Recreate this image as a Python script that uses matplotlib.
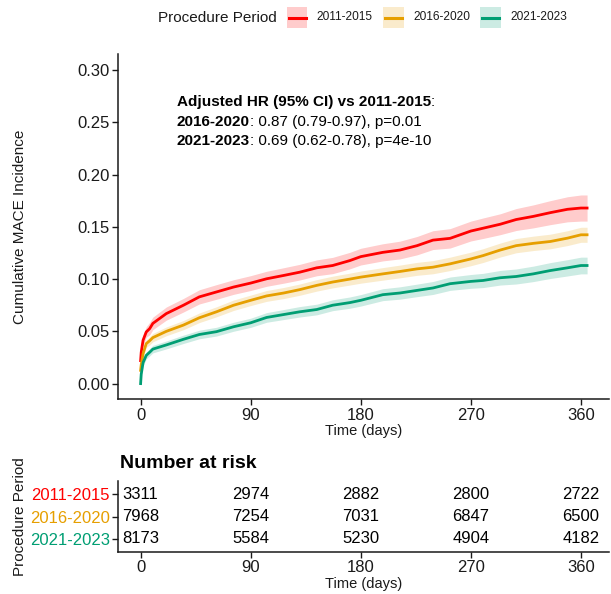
import numpy as np
import matplotlib
matplotlib.use("Agg")
import matplotlib.pyplot as plt
from matplotlib.patches import Rectangle
from matplotlib.lines import Line2D

plt.rcParams['font.family'] = ['Liberation Sans', 'DejaVu Sans']

#data
periods = ["2011-2015", "2016-2020", "2021-2023"]
colors = ["#FF0000", "#E69F00", "#009E73"]

days = [0, 0.5, 2, 4.6, 7.4, 10, 21, 35, 48, 62, 76, 90, 103, 117, 130, 144, 157,
        171, 180, 198, 212, 226, 239, 253, 270, 280, 294, 307, 321, 335, 349, 360, 365]

inc_2011 = [0.022, 0.030, 0.0415, 0.0494, 0.0526, 0.0576, 0.067, 0.075, 0.083, 0.0877,
            0.0924, 0.0962, 0.1003, 0.1035, 0.1066, 0.1108, 0.113, 0.1177, 0.1215, 0.1256,
            0.1278, 0.132, 0.1373, 0.139, 0.146, 0.1487, 0.1525, 0.157, 0.160, 0.1636,
            0.1668, 0.168, 0.168]
inc_2016 = [0.0127, 0.018, 0.0287, 0.0383, 0.041, 0.044, 0.050, 0.056, 0.063, 0.0687,
            0.075, 0.0797, 0.0839, 0.0867, 0.0899, 0.094, 0.0972, 0.100, 0.1019, 0.105,
            0.1073, 0.1098, 0.1114, 0.1146, 0.1193, 0.1225, 0.1278, 0.132, 0.1342, 0.136,
            0.1392, 0.1424, 0.1424]
inc_2021 = [0.0, 0.009, 0.020, 0.027, 0.030, 0.033, 0.037, 0.0424, 0.047, 0.0497,
            0.0544, 0.0582, 0.0633, 0.0661, 0.0687, 0.0709, 0.075, 0.0775, 0.0797, 0.0851,
            0.0867, 0.0892, 0.0915, 0.0956, 0.0978, 0.0987, 0.1013, 0.1025, 0.105, 0.1082,
            0.1108, 0.113, 0.113]

#half widths of the 95% bands
hw_2011 = [0.003, 0.004, 0.005, 0.005, 0.006, 0.006, 0.0063, 0.0065, 0.0068, 0.007, 0.007,
           0.0071, 0.0072, 0.0074, 0.0075, 0.0076, 0.0078, 0.0079, 0.008, 0.0082, 0.0085,
           0.0088, 0.009, 0.0093, 0.0095, 0.0098, 0.010, 0.0105, 0.011, 0.0115, 0.012,
           0.0125, 0.0125]
hw_2016 = [0.002, 0.003, 0.003, 0.0035, 0.004, 0.004, 0.0042, 0.0044, 0.0046, 0.0048, 0.005,
           0.005, 0.0052, 0.0053, 0.0054, 0.0055, 0.0056, 0.0057, 0.0058, 0.006, 0.0061,
           0.0062, 0.0063, 0.0064, 0.0065, 0.0066, 0.0067, 0.0068, 0.0069, 0.007, 0.0071,
           0.0072, 0.0072]
hw_2021 = [0.0015, 0.0025, 0.003, 0.0033, 0.0035, 0.0036, 0.0038, 0.004, 0.0041, 0.0042,
           0.0043, 0.0044, 0.0046, 0.0048, 0.005, 0.0051, 0.0052, 0.0054, 0.0055, 0.0057,
           0.0059, 0.006, 0.0062, 0.0064, 0.0066, 0.0068, 0.007, 0.0072, 0.0074, 0.0076,
           0.0078, 0.008, 0.008]

risk_times = [0, 90, 180, 270, 360]
risk_2011 = [3311, 2974, 2882, 2800, 2722]
risk_2016 = [7968, 7254, 7031, 6847, 6500]
risk_2021 = [8173, 5584, 5230, 4904, 4182]

curves = [inc_2011, inc_2016, inc_2021]
bands = [hw_2011, hw_2016, hw_2021]
risks = [risk_2011, risk_2016, risk_2021]

xlim = (-18.25, 383.25)
ink = "#1a1a1a"
W, H = 611, 594

fig = plt.figure(figsize=(6.11, 5.94), dpi=100)
ax = fig.add_axes([0.1936, 0.3278, 0.9974 - 0.1936, 0.9084 - 0.3278])
axr = fig.add_axes([0.1936, 0.0707, 0.9974 - 0.1936, 0.1902 - 0.0707])

#curves with confidence bands
t = np.array(days)
for y, hw, c in zip(curves, bands, colors):
    y = np.array(y); hw = np.array(hw)
    ax.fill_between(t, np.clip(y - hw, 0, None), y + hw, color=c, alpha=0.2, lw=0)
    ax.plot(t, y, color=c, lw=2.0)

ax.set_xlim(*xlim)
ax.set_ylim(-0.015, 0.315)
ax.set_xticks(risk_times)
ax.set_yticks(np.arange(0, 0.301, 0.05))
ax.yaxis.set_major_formatter(matplotlib.ticker.FormatStrFormatter('%.2f'))
ax.tick_params(labelsize=12, length=4, width=1, colors=ink, pad=2)
ax.set_xlabel("Time (days)", fontsize=10.5, color=ink, labelpad=1)
ax.set_ylabel("Cumulative MACE Incidence", fontsize=11, color=ink)
ax.yaxis.set_label_coords(-0.186, 0.5)
for s in ["top", "right"]:
    ax.spines[s].set_visible(False)
for s in ["left", "bottom"]:
    ax.spines[s].set_linewidth(1.1)
    ax.spines[s].set_color(ink)

#HR annotation, bold heads + plain rest
lines = [("Adjusted HR (95% CI) vs 2011-2015", ":"),
         ("2016-2020", ": 0.87 (0.79-0.97), p=0.01"),
         ("2021-2023", ": 0.69 (0.62-0.78), p=4e-10")]
x0 = (177 - 141) / 1.2222
for i, (head, rest) in enumerate(lines):
    ypos = 0.2693 - i * 0.0187
    tb = ax.text(x0, ypos, head, fontsize=11, fontweight='bold', va='center', ha='left', color='black')
    ax.annotate(rest, xy=(1, 0.5), xycoords=tb, va='center', ha='left', fontsize=11, color='black')

#top legend, drawn by hand in pixel positions: title, then key box + line + label
ly = 1 - 17.5 / H
fig.text(158 / W, ly, "Procedure Period", fontsize=11, va='center', ha='left', color=ink)
key_x = [286.5, 383, 480]
for kx, c, lab in zip(key_x, colors, periods):
    fig.patches.append(Rectangle((kx / W, ly - 10.5 / H), 21 / W, 21 / H, transform=fig.transFigure,
                                 facecolor=c, alpha=0.2, edgecolor='none'))
    fig.lines.append(Line2D([(kx + 2) / W, (kx + 19) / W], [ly, ly], transform=fig.transFigure,
                            color=c, lw=2.2))
    fig.text((kx + 30) / W, ly, lab, fontsize=8.6, va='center', ha='left', color=ink)

#risk table
for r, (vals, c) in enumerate(zip(risks, colors)):
    for tt, v in zip(risk_times, vals):
        axr.text(tt, r, str(v), ha='center', va='center', fontsize=12, color='black')
axr.set_xlim(*xlim)
axr.set_ylim(2.6, -0.6)
axr.set_yticks(range(3))
axr.set_yticklabels(periods)
axr.set_xticks(risk_times)
axr.tick_params(labelsize=12, length=4, width=1, colors=ink, pad=2)
for lab, c in zip(axr.get_yticklabels(), colors):
    lab.set_color(c)
axr.set_xlabel("Time (days)", fontsize=10.5, color=ink, labelpad=1)
axr.set_ylabel("Procedure Period", fontsize=11, color=ink)
axr.yaxis.set_label_coords(-0.186, 0.5)
for s in ["top", "right"]:
    axr.spines[s].set_visible(False)
for s in ["left", "bottom"]:
    axr.spines[s].set_linewidth(1.1)
    axr.spines[s].set_color(ink)
fig.text(120 / W, 1 - 463 / H, "Number at risk", fontsize=14, fontweight='bold',
         va='center', ha='left', color='black')

fig.savefig("out.png", dpi=100)
